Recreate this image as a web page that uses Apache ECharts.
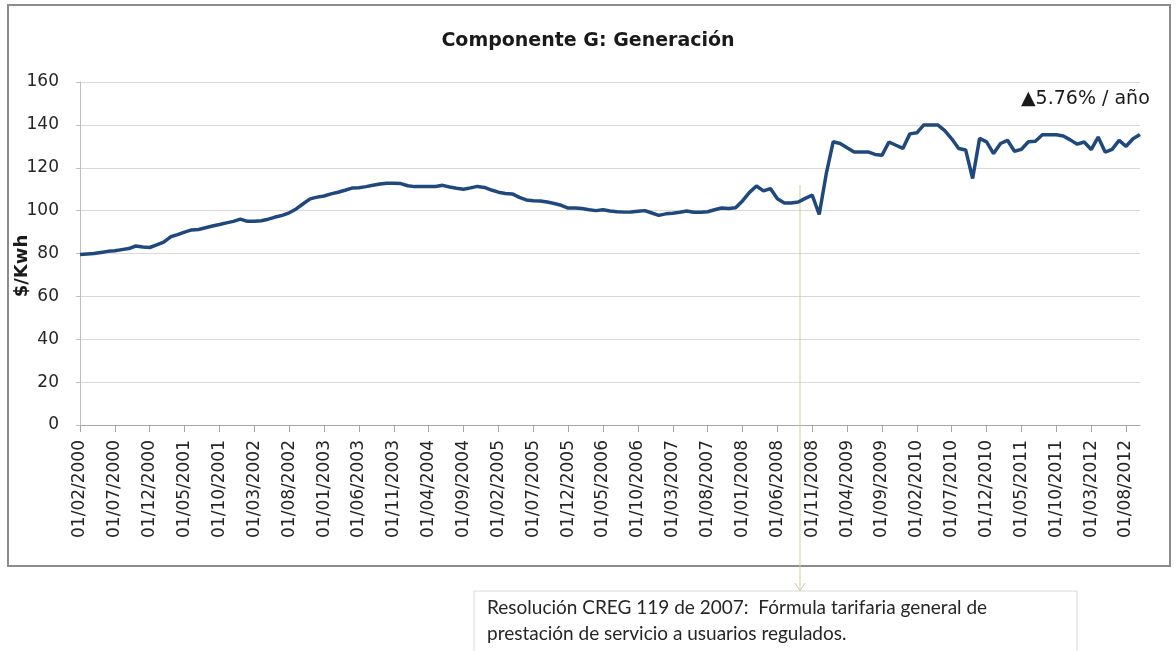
<!DOCTYPE html>
<html lang="es">
<head>
    <meta charset="utf-8">
    <title>Componente G: Generación</title>
    <script src="https://cdn.jsdelivr.net/npm/echarts@6/dist/echarts.min.js"></script>
    <style>
        html, body { margin: 0; padding: 0; background: #fff; }
        #grafico { width: 1176px; height: 651px; }
    </style>
</head>
<body>
    <div id="grafico"></div>
<script type="text/javascript">
    // serie mensual desde 01/02/2000 hasta 01/10/2012 ($/Kwh)
    const inicioAnio = 2000;
    const inicioMes = 2;
    const v2000 = [79.5, 79.8, 80.0, 80.5, 81.0, 81.3, 81.8, 82.3, 83.5, 83.0, 82.8];
    const v2001 = [84.0, 85.3, 87.8, 88.8, 90.0, 91.0, 91.2, 92.0, 92.8, 93.5, 94.3, 95.0];
    const v2002 = [96.0, 95.0, 95.0, 95.3, 96.0, 97.0, 97.8, 99.0, 100.8, 103.2, 105.5, 106.3];
    const v2003 = [106.8, 107.8, 108.6, 109.5, 110.5, 110.7, 111.2, 111.8, 112.4, 112.8, 112.8, 112.6];
    const v2004 = [111.6, 111.2, 111.2, 111.2, 111.3, 111.8, 111.0, 110.4, 110.0, 110.6, 111.3, 110.8];
    const v2005 = [109.6, 108.6, 108.0, 107.8, 106.2, 105.0, 104.6, 104.5, 104.0, 103.3, 102.5, 101.2];
    const v2006 = [101.2, 101.0, 100.4, 100.0, 100.4, 99.8, 99.5, 99.3, 99.4, 99.7, 100.0, 98.9];
    const v2007 = [97.8, 98.5, 98.8, 99.2, 99.8, 99.2, 99.2, 99.5, 100.4, 101.2, 101.0, 101.3];
    const v2008 = [104.5, 108.5, 111.5, 109.2, 110.3, 105.5, 103.6, 103.6, 104.0, 105.7, 107.2, 98.2];
    const v2009 = [117.0, 132.1, 131.3, 129.3, 127.4, 127.4, 127.4, 126.2, 125.8, 132.0, 130.5, 129.0];
    const v2010 = [135.8, 136.3, 140.0, 140.0, 140.0, 137.3, 133.5, 129.0, 128.3, 115.0, 133.7, 132.1];
    const v2011 = [126.6, 131.3, 132.8, 127.7, 128.6, 132.1, 132.4, 135.4, 135.4, 135.4, 134.8, 133.0];
    const v2012 = [131.0, 132.0, 128.5, 134.3, 127.3, 128.6, 132.8, 130.0, 133.5, 135.5];

    const valores = [].concat(v2000, v2001, v2002, v2003, v2004, v2005, v2006,
        v2007, v2008, v2009, v2010, v2011, v2012);

    // etiquetas de fecha dd/mm/aaaa
    const fechas = [];
    for (let i = 0; i < valores.length; i++) {
        let m = inicioMes - 1 + i;
        let anio = inicioAnio + Math.floor(m / 12);
        let mes = (m % 12) + 1;
        fechas.push('01/' + (mes < 10 ? '0' + mes : mes) + '/' + anio);
    }

    const titulo = 'Componente G: Generación';
    const ejeY = '$/Kwh';
    const tasa = '\u25B25.76% / año';
    const nota1 = 'Resolución CREG 119 de 2007:  Fórmula tarifaria general de';
    const nota2 = 'prestación de servicio a usuarios regulados.';

    let myChart = echarts.init(document.getElementById('grafico'));
    let option = {
        backgroundColor: '#fff',
        animation: false,
        title: {
            text: titulo,
            left: 'center',
            top: 27,
            textStyle: { fontFamily: 'DejaVu Sans', fontSize: 19, fontWeight: 'bold', color: '#1a1a1a' }
        },
        grid: { left: 80, right: 36, top: 82, bottom: 226 },
        xAxis: {
            type: 'category',
            data: fechas,
            boundaryGap: false,
            axisLine: { lineStyle: { color: '#a6a6a6', width: 1 } },
            axisTick: { interval: 4, length: 7, lineStyle: { color: '#a6a6a6' } },
            axisLabel: {
                interval: 4, rotate: 90, margin: 15,
                fontFamily: 'DejaVu Sans', fontSize: 17, color: '#262626'
            },
            splitLine: { show: false }
        },
        yAxis: {
            type: 'value',
            min: 0,
            max: 160,
            interval: 20,
            axisLine: { show: true, lineStyle: { color: '#bfbfbf' } },
            axisTick: { show: true, length: 4, lineStyle: { color: '#bfbfbf' } },
            axisLabel: { margin: 21, fontFamily: 'DejaVu Sans', fontSize: 17, color: '#262626' },
            splitLine: { lineStyle: { color: '#d9d9d9', width: 1 } }
        },
        series: [{
            type: 'line',
            data: valores,
            showSymbol: false,
            lineStyle: { color: '#1f497d', width: 3.5 },
            itemStyle: { color: '#1f497d' },
            z: 5
        }],
        graphic: [
            { // marco del grafico
                type: 'rect', z: -1, silent: true,
                shape: { x: 8, y: 5, width: 1162, height: 561 },
                style: { fill: null, stroke: '#8c8c8c', lineWidth: 2 }
            },
            {
                type: 'text', x: 22, y: 266, rotation: Math.PI / 2,
                style: {
                    text: ejeY, fontFamily: 'DejaVu Sans', fontSize: 18, fontWeight: 'bold',
                    fill: '#1a1a1a', align: 'center', verticalAlign: 'middle'
                }
            },
            {
                type: 'text', x: 1021, y: 99,
                style: {
                    text: tasa, fontFamily: 'DejaVu Sans', fontSize: 19,
                    fill: '#1a1a1a', align: 'left', verticalAlign: 'middle'
                }
            },
            { // flecha hacia la nota
                type: 'line', z: 1,
                shape: { x1: 800, y1: 185, x2: 800, y2: 591 },
                style: { stroke: '#d2cd98', lineWidth: 1 }
            },
            {
                type: 'polyline', z: 1,
                shape: { points: [[795, 583], [800, 591], [805, 583]] },
                style: { stroke: '#d2cd98', lineWidth: 1, fill: null }
            },
            { // caja de la nota
                type: 'rect', z: 2,
                shape: { x: 474, y: 591, width: 603, height: 80 },
                style: { fill: '#fff', stroke: '#d9d9d9', lineWidth: 1 }
            },
            {
                type: 'text', z: 3, x: 487, y: 608,
                style: {
                    text: nota1, fontFamily: 'Lato', fontSize: 19,
                    fill: '#262626', verticalAlign: 'middle'
                }
            },
            {
                type: 'text', z: 3, x: 487, y: 634,
                style: {
                    text: nota2, fontFamily: 'Lato', fontSize: 19,
                    fill: '#262626', verticalAlign: 'middle'
                }
            }
        ]
    };
    myChart.setOption(option);
</script>
</body>
</html>
